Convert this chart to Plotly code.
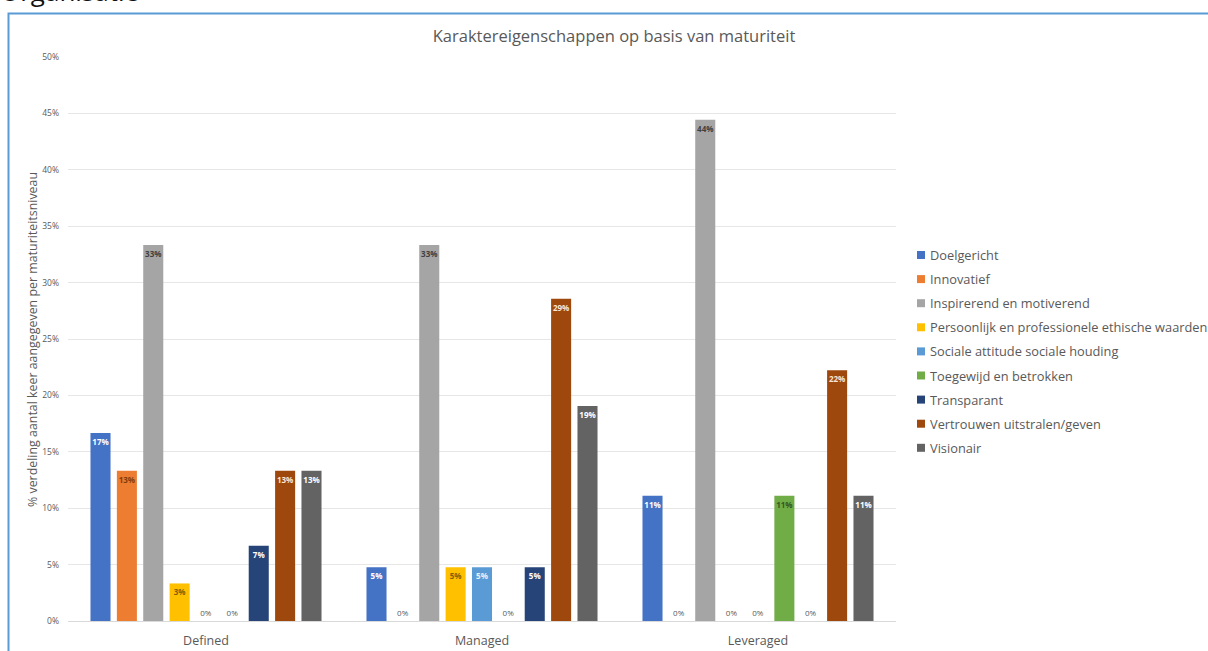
import plotly.graph_objects as go

# Maturity levels on the category axis
categories = ["Defined", "Managed", "Leveraged"]

# Share of mentions per characteristic, per maturity level
doelgericht = [0.1667, 0.0476, 0.1111]
innovatief = [0.1333, 0.0, 0.0]
inspirerend = [0.3333, 0.3333, 0.4444]
persoonlijk = [0.0333, 0.0476, 0.0]
sociale = [0.0, 0.0476, 0.0]
toegewijd = [0.0, 0.0, 0.1111]
transparant = [0.0667, 0.0476, 0.0]
vertrouwen = [0.1333, 0.2857, 0.2222]
visionair = [0.1333, 0.1905, 0.1111]

series_names = [
    "Doelgericht",
    "Innovatief",
    "Inspirerend en motiverend",
    "Persoonlijk en professionele ethische waarden",
    "Sociale attitude sociale houding",
    "Toegewijd en betrokken",
    "Transparant",
    "Vertrouwen uitstralen/geven",
    "Visionair",
]
series_values = [doelgericht, innovatief, inspirerend, persoonlijk, sociale,
                 toegewijd, transparant, vertrouwen, visionair]

y_ticks = [0.0, 0.05, 0.10, 0.15, 0.20, 0.25, 0.30, 0.35, 0.40, 0.45, 0.50]
y_tick_labels = ["0%", "5%", "10%", "15%", "20%", "25%", "30%", "35%", "40%", "45%", "50%"]

# Office-style palette and matching label colours
fill_colors = ["#4472C4", "#ED7D31", "#A5A5A5", "#FFC000", "#5B9BD5",
               "#70AD47", "#264478", "#9E480E", "#636363"]
label_colors = ["#FFFFFF", "#843C0C", "#404040", "#7F6000", "#EAF1FA",
                "#375623", "#FFFFFF", "#FBE5D6", "#FFFFFF"]

FONT = "Open Sans"
GREY_TEXT = "#595959"

W, H = 1208, 651
L, R, T, B = 68, 312, 57, 30
PW, PH = W - L - R, H - T - B


def px(x):
    return (x - L) / PW


def py(y):
    return (H - B - y) / PH


fig = go.Figure()
for name, vals, fc, lc in zip(series_names, series_values, fill_colors, label_colors):
    fig.add_trace(go.Bar(
        name=name,
        x=categories,
        y=vals,
        marker=dict(color=fc, line=dict(width=0)),
        texttemplate="%{y:.0%}",
        textposition=["inside" if v > 0 else "outside" for v in vals],
        insidetextanchor="end",
        insidetextfont=dict(family=FONT, size=8, color=lc, weight="bold"),
        outsidetextfont=dict(family=FONT, size=8, color=GREY_TEXT),
        textangle=0,
        constraintext="none",
        cliponaxis=False,
        showlegend=False,
        hovertemplate="%{x}<br>" + name + ": %{y:.1%}<extra></extra>",
    ))

shapes = [
    # outer chart frame
    dict(type="rect", xref="paper", yref="paper",
         x0=px(8.5), x1=px(1230), y0=py(700), y1=py(13.5),
         line=dict(color="#5B9BD5", width=2), fillcolor="rgba(0,0,0,0)", layer="above"),
]
annotations = [
    dict(text="Organisatie", xref="paper", yref="paper", x=px(-2), y=py(11),
         xanchor="left", yanchor="bottom", showarrow=False,
         font=dict(family=FONT, size=26, color="#111111")),
    dict(text="% verdeling aantal keer aangegeven per maturiteitsniveau",
         xref="paper", yref="paper", x=px(32), y=py(340), textangle=-90,
         xanchor="center", yanchor="middle", showarrow=False,
         font=dict(family=FONT, size=12.4, color=GREY_TEXT)),
]

# Legend: coloured squares with names
for i, (name, fc) in enumerate(zip(series_names, fill_colors)):
    cy = 255 + 24.1 * i
    shapes.append(dict(type="rect", xref="paper", yref="paper",
                       x0=px(917), x1=px(925), y0=py(cy + 4), y1=py(cy - 4),
                       line=dict(width=0), fillcolor=fc))
    annotations.append(dict(text=name, xref="paper", yref="paper",
                            x=px(928), y=py(cy), xanchor="left", yanchor="middle",
                            showarrow=False,
                            font=dict(family=FONT, size=12.8, color=GREY_TEXT)))

fig.update_layout(
    width=W, height=H, autosize=False,
    margin=dict(l=L, r=R, t=T, b=B, pad=0),
    paper_bgcolor="white", plot_bgcolor="white",
    barmode="group", bargap=0.14, bargroupgap=0.24,
    title=dict(text="Karaktereigenschappen op basis van maturiteit",
               x=614 / W, y=1 - 36 / H, xanchor="center", yanchor="middle",
               font=dict(family=FONT, size=16.5, color=GREY_TEXT)),
    font=dict(family=FONT, color=GREY_TEXT),
    xaxis=dict(showgrid=False, showline=False, zeroline=False, ticks="",
               tickfont=dict(family=FONT, size=12.5, color=GREY_TEXT),
               ticklabelstandoff=10, automargin=False, fixedrange=True),
    yaxis=dict(range=[0, 0.5], tickvals=y_ticks, ticktext=y_tick_labels,
               showgrid=True, gridcolor="#E6E6E6", gridwidth=1,
               zeroline=True, zerolinecolor="#D9D9D9", zerolinewidth=1,
               showline=False, ticks="",
               tickfont=dict(family=FONT, size=8.5, color=GREY_TEXT),
               ticklabelstandoff=8, automargin=False, fixedrange=True),
    shapes=shapes,
    annotations=annotations,
)

fig.write_html("out.html")
